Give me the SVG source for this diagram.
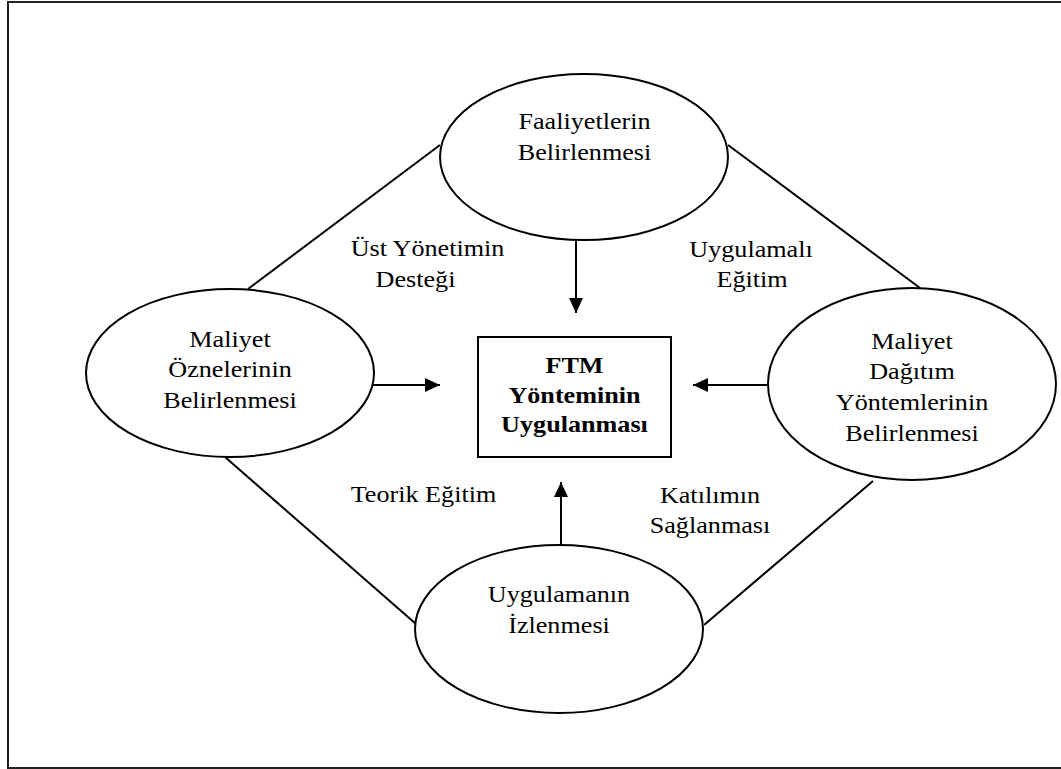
<svg xmlns="http://www.w3.org/2000/svg" width="1061" height="769" viewBox="0 0 1061 769">
<style>
.frame{fill:none;stroke:#222;stroke-width:2}
.node{fill:#fff;stroke:#000;stroke-width:2}
.conn{stroke:#000;stroke-width:2;fill:none}
text{font-family:"Liberation Serif","Times New Roman",serif;font-size:24px;fill:#000;text-anchor:middle}
.b{font-weight:bold}
</style>
<defs>
<marker id="ah" markerUnits="userSpaceOnUse" markerWidth="16" markerHeight="15" refX="15" refY="7" orient="auto">
<path d="M0,0 L15,7 L0,14 z" fill="#000"/>
</marker>
</defs>
<rect class="frame" x="8" y="2" width="1060" height="766"/>
<g id="connectors">
<line class="conn" x1="440" y1="145" x2="248" y2="289"/>
<line class="conn" x1="728" y1="145" x2="920" y2="288"/>
<line class="conn" x1="225" y1="457" x2="416" y2="624"/>
<line class="conn" x1="873" y1="481" x2="704" y2="625"/>
<line class="conn" x1="576" y1="240" x2="576" y2="313" marker-end="url(#ah)"/>
<line class="conn" x1="561" y1="545" x2="561" y2="482" marker-end="url(#ah)"/>
<line class="conn" x1="368" y1="385" x2="440" y2="385" marker-end="url(#ah)"/>
<line class="conn" x1="767" y1="385" x2="693" y2="385" marker-end="url(#ah)"/>
</g>
<g id="labels">
<text transform="translate(427.5,256) scale(1.09,1)">Üst Yönetimin</text>
<text transform="translate(415.5,287) scale(1.09,1)">Desteği</text>
<text transform="translate(751,257) scale(1.09,1)">Uygulamalı</text>
<text transform="translate(752,287) scale(1.09,1)">Eğitim</text>
<text transform="translate(423.5,502) scale(1.09,1)">Teorik Eğitim</text>
<text transform="translate(710,503) scale(1.09,1)">Katılımın</text>
<text transform="translate(710,533) scale(1.09,1)">Sağlanması</text>
</g>
<g id="n-faaliyet">
<ellipse class="node" cx="584" cy="157" rx="144" ry="83"/>
<text transform="translate(584.5,129) scale(1.09,1)">Faaliyetlerin</text>
<text transform="translate(584.5,160) scale(1.09,1)">Belirlenmesi</text>
</g>
<g id="n-ozne">
<ellipse class="node" cx="230" cy="373" rx="144" ry="84"/>
<text transform="translate(230,347) scale(1.09,1)">Maliyet</text>
<text transform="translate(230,377) scale(1.09,1)">Öznelerinin</text>
<text transform="translate(230,408) scale(1.09,1)">Belirlenmesi</text>
</g>
<g id="n-dagitim">
<ellipse class="node" cx="912" cy="384" rx="144" ry="96"/>
<text transform="translate(912,349) scale(1.09,1)">Maliyet</text>
<text transform="translate(912,379) scale(1.09,1)">Dağıtım</text>
<text transform="translate(912,410) scale(1.09,1)">Yöntemlerinin</text>
<text transform="translate(912,441) scale(1.09,1)">Belirlenmesi</text>
</g>
<g id="n-izleme">
<ellipse class="node" cx="559" cy="629" rx="144" ry="84"/>
<text transform="translate(559,602) scale(1.09,1)">Uygulamanın</text>
<text transform="translate(559,633) scale(1.09,1)">İzlenmesi</text>
</g>
<g id="n-ftm">
<rect class="node" x="478" y="337" width="193" height="120"/>
<text class="b" transform="translate(574.5,373) scale(1.09,1)">FTM</text>
<text class="b" transform="translate(574.5,403) scale(1.09,1)">Yönteminin</text>
<text class="b" transform="translate(574.5,432) scale(1.09,1)">Uygulanması</text>
</g>
</svg>
